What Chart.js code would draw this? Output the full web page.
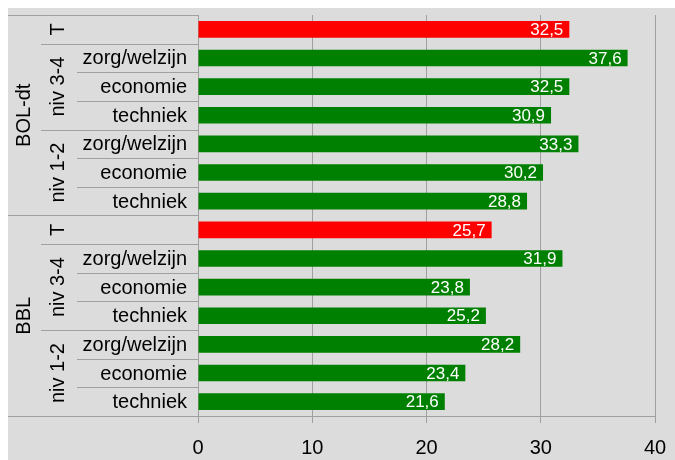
<!DOCTYPE html>
<html>
<head>
<meta charset="utf-8">
<script src="https://cdn.jsdelivr.net/npm/chart.js@4/dist/chart.umd.min.js"></script>
<style>
  html, body { margin: 0; padding: 0; background: #fff; }
  #wrap { position: absolute; left: 8px; top: 8px; width: 667px; height: 452px; background: #dcdcdc; }
</style>
</head>
<body>
<div id="wrap"><canvas id="grafiek"></canvas></div>
<script>
const rowGroups = ["BOL-dt", "BOL-dt", "BOL-dt", "BOL-dt", "BOL-dt", "BOL-dt", "BOL-dt",
  "BBL", "BBL", "BBL", "BBL", "BBL", "BBL", "BBL"];
const rowLevels = ["T", "niv 3-4", "niv 3-4", "niv 3-4", "niv 1-2", "niv 1-2", "niv 1-2",
  "T", "niv 3-4", "niv 3-4", "niv 3-4", "niv 1-2", "niv 1-2", "niv 1-2"];
const rowSectors = ["", "zorg/welzijn", "economie", "techniek", "zorg/welzijn", "economie", "techniek",
  "", "zorg/welzijn", "economie", "techniek", "zorg/welzijn", "economie", "techniek"];
const waarden = [32.5, 37.6, 32.5, 30.9, 33.3, 30.2, 28.8, 25.7, 31.9, 23.8, 25.2, 28.2, 23.4, 21.6];
const xTicks = [0, 10, 20, 30, 40];

const FONT = "'Liberation Sans', Arial, sans-serif";
const LIJN = "#a0a0a0";

// labels in drie kolommen links van de grafiek
const labelPlugin = {
  id: "labels",
  afterDraw(chart) {
    const c = chart.ctx;
    const y = chart.scales.y;
    const left = chart.chartArea.left;
    const n = rowGroups.length;
    const half = (y.getPixelForValue(1) - y.getPixelForValue(0)) / 2;
    const top = (i) => y.getPixelForValue(i) - half;

    c.save();
    c.strokeStyle = LIJN;
    c.lineWidth = 1;
    function lijn(x0, yy) {
      c.beginPath();
      c.moveTo(x0, Math.round(yy) + 0.5);
      c.lineTo(left, Math.round(yy) + 0.5);
      c.stroke();
    }
    for (let i = 0; i <= n; i++) {
      if (i === 0 || i === n || rowGroups[i] !== rowGroups[i - 1]) lijn(0, top(i));
      else if (rowLevels[i] !== rowLevels[i - 1]) lijn(33, top(i));
      else lijn(69, top(i));
    }

    c.fillStyle = "#000";
    c.font = "20px " + FONT;
    function draaiTekst(txt, x, yy) {
      c.save();
      c.translate(x, yy);
      c.rotate(-Math.PI / 2);
      c.textAlign = "center";
      c.textBaseline = "middle";
      c.fillText(txt, 0, 0);
      c.restore();
    }
    function runs(arr, fn) {
      let start = 0;
      for (let i = 1; i <= n; i++) {
        if (i === n || arr[i] !== arr[start] || rowGroups[i] !== rowGroups[start]) {
          fn(arr[start], (top(start) + top(i)) / 2);
          start = i;
        }
      }
    }
    runs(rowGroups, (t, yy) => draaiTekst(t, 16, yy));
    runs(rowLevels, (t, yy) => draaiTekst(t, 50, yy));

    c.textAlign = "right";
    c.textBaseline = "middle";
    rowSectors.forEach((t, i) => {
      if (t) c.fillText(t, left - 11, y.getPixelForValue(i) + 1);
    });

    // waarden in de balken
    c.fillStyle = "#fff";
    c.font = "17px " + FONT;
    chart.getDatasetMeta(0).data.forEach((bar, i) => {
      c.fillText(waarden[i].toFixed(1).replace(".", ","), bar.x - 6, bar.y + 1);
    });
    c.restore();
  }
};

new Chart(document.getElementById("grafiek"), {
  type: "bar",
  data: {
    labels: rowSectors.map((s, i) => s || rowLevels[i]),
    datasets: [{
      data: waarden,
      backgroundColor: rowLevels.map((l) => (l === "T" ? "#ff0000" : "#008000")),
      borderWidth: 0,
      barPercentage: 0.58,
      categoryPercentage: 1
    }]
  },
  options: {
    indexAxis: "y",
    responsive: true,
    maintainAspectRatio: false,
    animation: false,
    layout: { padding: { left: 0, top: 7, right: 20, bottom: 0 } },
    plugins: { legend: { display: false }, tooltip: { enabled: false } },
    scales: {
      x: {
        min: 0,
        max: 40,
        afterBuildTicks: (s) => { s.ticks = xTicks.map((v) => ({ value: v })); },
        afterFit: (s) => { s.height = 44; s.paddingLeft = 0; s.paddingRight = 0; },
        grid: { color: LIJN, tickLength: 7 },
        border: { color: LIJN },
        ticks: { color: "#000", padding: 13, maxRotation: 0, font: { family: FONT, size: 20 } }
      },
      y: {
        afterFit: (s) => { s.width = 190; },
        grid: { display: false },
        border: { color: LIJN },
        ticks: { display: false }
      }
    }
  },
  plugins: [labelPlugin]
});
</script>
</body>
</html>
